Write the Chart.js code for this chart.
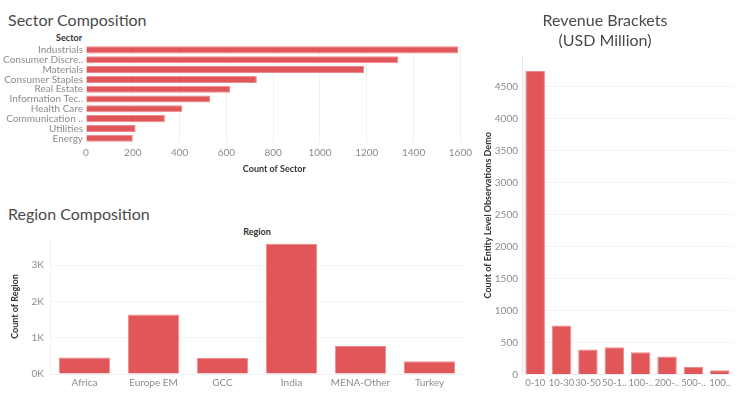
<!DOCTYPE html>
<html>
<head>
<meta charset="utf-8">
<script src="https://cdn.jsdelivr.net/npm/chart.js@4/dist/chart.umd.min.js"></script>
<style>
    body { margin: 0; background: #fff; font-family: Lato, "Open Sans", sans-serif; }
    #page { position: relative; width: 739px; height: 394px; overflow: hidden; }
    .box { position: absolute; }
    .title { position: absolute; font-size: 16px; line-height: 20px; color: #4a4a4a; white-space: nowrap; }
    .head { position: absolute; font-size: 9px; font-weight: bold; color: #333; line-height: 12px; }
</style>
</head>
<body>
<div id="page">
    <div class="title" style="left:8px; top:10px;">Sector Composition</div>
    <div class="head" style="left:0; width:82px; top:32px; text-align:right;">Sector</div>
    <div class="box" style="left:0; top:36px; width:476px; height:138px;"><canvas id="sectorChart"></canvas></div>

    <div class="title" style="left:8px; top:204px;">Region Composition</div>
    <div class="head" style="left:157px; width:200px; top:226px; text-align:center;">Region</div>
    <div class="box" style="left:0; top:227px; width:470px; height:165px;"><canvas id="regionChart"></canvas></div>

    <div class="title" style="left:470px; width:270px; top:10px; text-align:center;">Revenue Brackets<br>(USD Million)</div>
    <div class="box" style="left:470px; top:46px; width:269px; height:346px;"><canvas id="revenueChart"></canvas></div>
</div>

<script>
const sectorLabels = ["Industrials", "Consumer Discre..", "Materials", "Consumer Staples", "Real Estate",
    "Information Tec..", "Health Care", "Communication ..", "Utilities", "Energy"];
const sectorCounts = [1590, 1335, 1188, 730, 616, 530, 412, 337, 212, 200];

const regionLabels = ["Africa", "Europe EM", "GCC", "India", "MENA-Other", "Turkey"];
const regionCounts = [457, 1640, 440, 3580, 775, 350];

const revenueLabels = ["0-10", "10-30", "30-50", "50-1..", "100-..", "200-..", "500-..", "100.."];
const revenueCounts = [4740, 766, 390, 427, 349, 281, 119, 67];

const barColor = "#e15759";
const barEdge = "#ee8a8b";
const tickColor = "#8c8c8c";
const gridColor = "#f2f2f2";
const tickFont = { family: "Lato", size: 10 };
const axisTitleFont = { family: "Lato", size: 9, weight: "bold" };

// ticks every `step` from 0 up to the axis max, without the max itself
function stepTicks(step) {
    return function (scale) {
        const t = [];
        for (let v = 0; v <= scale.max; v += step) t.push({ value: v });
        scale.ticks = t;
    };
}

function baseOptions() {
    return {
        responsive: true,
        maintainAspectRatio: false,
        animation: false,
        plugins: { legend: { display: false }, tooltip: { enabled: false } }
    };
}

// sector, horizontal bars
const sectorOpts = baseOptions();
sectorOpts.indexAxis = "y";
sectorOpts.layout = { padding: { top: 0, right: 0 } };
sectorOpts.scales = {
    x: {
        min: 0, max: 1610,
        afterBuildTicks: stepTicks(200),
        ticks: { color: tickColor, font: tickFont, maxRotation: 0, padding: 4, callback: v => String(v) },
        grid: { color: gridColor, drawTicks: false },
        border: { display: false },
        title: { display: true, text: "Count of Sector", color: "#333", font: axisTitleFont, padding: { top: 0, bottom: 0 } }
    },
    y: {
        afterFit: s => { s.width = 86; },
        ticks: { color: tickColor, font: tickFont, autoSkip: false, padding: 3 },
        grid: { display: false, drawTicks: false },
        border: { display: false }
    }
};
new Chart(document.getElementById("sectorChart"), {
    type: "bar",
    data: {
        labels: sectorLabels,
        datasets: [{ data: sectorCounts, backgroundColor: barColor, borderColor: barEdge, borderWidth: 1,
            categoryPercentage: 1, barPercentage: 0.72 }]
    },
    options: sectorOpts
});

// region, vertical bars
const regionOpts = baseOptions();
regionOpts.layout = { padding: { top: 2, right: 6 } };
regionOpts.scales = {
    x: {
        ticks: { color: tickColor, font: tickFont, maxRotation: 0, autoSkip: false, padding: 3 },
        grid: { display: false, drawTicks: false },
        border: { color: gridColor }
    },
    y: {
        min: 0, max: 3720,
        afterFit: s => { s.width = 50; },
        afterBuildTicks: stepTicks(1000),
        ticks: { color: tickColor, font: tickFont, padding: 6, callback: v => (v / 1000) + "K" },
        grid: { color: gridColor, drawTicks: false },
        border: { color: gridColor },
        title: { display: true, text: "Count of Region", color: "#333", font: axisTitleFont, padding: { top: 10, bottom: 0 } }
    }
};
new Chart(document.getElementById("regionChart"), {
    type: "bar",
    data: {
        labels: regionLabels,
        datasets: [{ data: regionCounts, backgroundColor: barColor, borderColor: barEdge, borderWidth: 1,
            categoryPercentage: 1, barPercentage: 0.745 }]
    },
    options: regionOpts
});

// revenue brackets
const revenueOpts = baseOptions();
revenueOpts.layout = { padding: { top: 5, right: 6 } };
revenueOpts.scales = {
    x: {
        ticks: { color: tickColor, font: { family: "Lato", size: 9.5 }, maxRotation: 0, autoSkip: false, padding: 3 },
        grid: { display: false, drawTicks: false },
        border: { color: gridColor }
    },
    y: {
        min: 0, max: 4975,
        afterFit: s => { s.width = 52; },
        afterBuildTicks: stepTicks(500),
        ticks: { color: tickColor, font: tickFont, padding: 4, callback: v => String(v) },
        grid: { color: gridColor, drawTicks: false },
        border: { color: "#e6e6e6" },
        title: { display: true, text: "Count of Entity Level Observations Demo", color: "#333", font: axisTitleFont, padding: { top: 13, bottom: 0 } }
    }
};
new Chart(document.getElementById("revenueChart"), {
    type: "bar",
    data: {
        labels: revenueLabels,
        datasets: [{ data: revenueCounts, backgroundColor: barColor, borderColor: barEdge, borderWidth: 1,
            categoryPercentage: 1, barPercentage: 0.74 }]
    },
    options: revenueOpts
});
</script>
</body>
</html>
